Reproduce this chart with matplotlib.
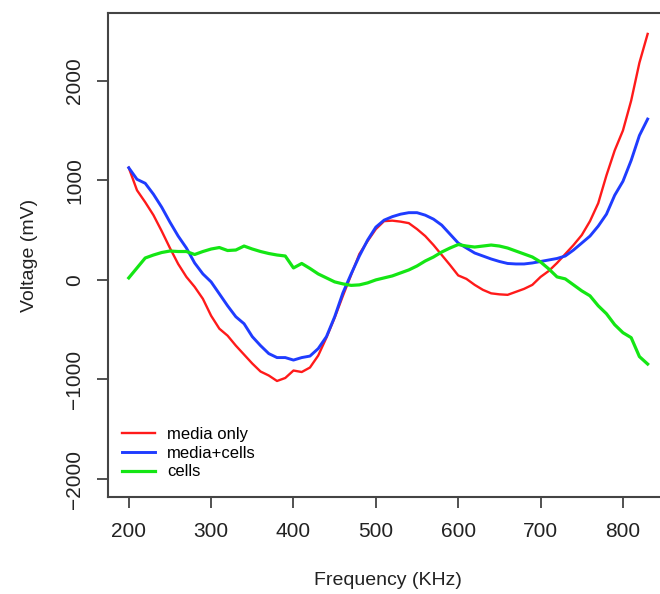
import numpy as np
import matplotlib.pyplot as plt

plt.rcParams['font.family'] = ['Liberation Sans', 'DejaVu Sans']

# Frequency sweep (KHz) and measured voltages (mV)
freq = np.arange(200, 831, 10)

media_only = [
    1126, 900, 780, 650, 490, 320, 160, 30, -70, -190,
    -360, -490, -560, -660, -750, -840, -920, -960, -1015, -985,
    -910, -925, -880, -760, -580, -380, -160, 50, 260, 390,
    510, 590, 595, 585, 570, 510, 440, 350, 250, 150,
    45, 10, -50, -100, -135, -145, -150, -120, -90, -50,
    30, 90, 170, 260, 350, 450, 590, 770, 1050, 1300,
    1500, 1800, 2180, 2470,
]

media_cells = [
    1126, 1010, 970, 860, 730, 580, 440, 320, 170, 60,
    -20, -140, -260, -370, -440, -570, -660, -740, -780, -780,
    -805, -780, -765, -690, -570, -370, -130, 60, 240, 400,
    530, 600, 635, 660, 675, 675, 650, 610, 550, 460,
    370, 320, 270, 240, 210, 185, 165, 160, 160, 170,
    185, 200, 215, 240, 300, 370, 440, 540, 660, 850,
    990, 1200, 1450, 1615,
]

cells = [
    20, 120, 220, 250, 275, 290, 285, 285, 255, 285,
    310, 325, 295, 300, 340, 310, 285, 265, 250, 240,
    120, 165, 115, 60, 20, -20, -40, -55, -50, -30,
    0, 20, 40, 70, 100, 140, 190, 230, 280, 320,
    355, 340, 330, 340, 350, 340, 320, 290, 260, 230,
    180, 110, 30, 10, -50, -110, -160, -260, -340, -450,
    -530, -580, -770, -845,
]

series_labels = ['media only', 'media+cells', 'cells']

fig = plt.figure(figsize=(6.6, 5.94), dpi=100)
ax = fig.add_axes([108 / 660, 97 / 594, 560.4 / 660, 484 / 594])

ax.plot(freq, media_only, color='#ff1a1a', lw=1.7, label=series_labels[0])
ax.plot(freq, media_cells, color='#1f3cff', lw=2.1, label=series_labels[1])
ax.plot(freq, cells, color='#14e614', lw=2.3, label=series_labels[2])

# R-style limits: 4% padding around the range
xr = 830 - 200
ax.set_xlim(200 - 0.04 * xr, 830 + 0.04 * xr)
ax.set_ylim(-2000 - 180, 2500 + 180)

ax.set_xticks([200, 300, 400, 500, 600, 700, 800])
ax.set_yticks([-2000, -1000, 0, 1000, 2000])
ax.tick_params(axis='both', direction='out', length=8, width=1.2,
               color='#333333', labelsize=15, labelcolor='#222222')
ax.tick_params(axis='x', pad=10)
ax.tick_params(axis='y', pad=9)
for lbl in ax.get_yticklabels():
    lbl.set_rotation(90)
    lbl.set_va('center')

for side in ['left', 'bottom', 'top', 'right']:
    ax.spines[side].set_color('#444444')
    ax.spines[side].set_linewidth(1.5)

ax.set_xlabel('Frequency (KHz)', fontsize=14, color='#222222', labelpad=22)
ax.set_ylabel('Voltage (mV)', fontsize=14, color='#222222', labelpad=20)

ax.legend(loc='upper left', bbox_to_anchor=(122 / 660, 1 - 427 / 594),
          bbox_transform=fig.transFigure, frameon=False, fontsize=12,
          handlelength=2.0, handletextpad=0.7, labelspacing=0.22,
          borderpad=0, borderaxespad=0)

fig.savefig('out.png', dpi=100)
